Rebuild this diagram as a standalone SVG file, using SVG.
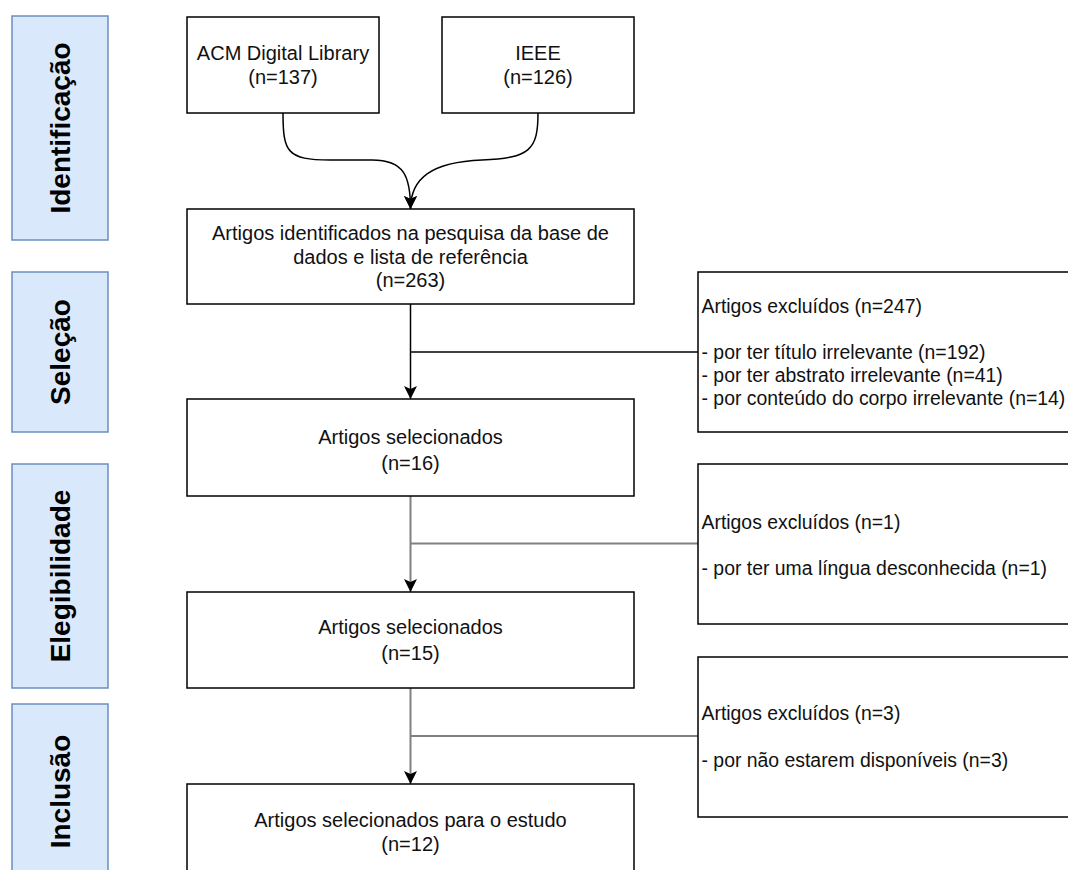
<svg xmlns="http://www.w3.org/2000/svg" width="1068" height="870" viewBox="0 0 1068 870">
  <style>
    .phase { fill: #dae8fc; stroke: #6c8ebf; stroke-width: 1.5; }
    .phase-label { font-family: "Liberation Sans", Arial, sans-serif; font-size: 28px; font-weight: bold; fill: #000; text-anchor: middle; }
    .box { fill: #fff; stroke: #000; stroke-width: 1.5; }
    .label { font-family: "Liberation Sans", Arial, sans-serif; font-size: 20px; fill: #111; text-anchor: middle; }
    .note { font-family: "Liberation Sans", Arial, sans-serif; font-size: 19.4px; fill: #111; }
    .edge { fill: none; stroke: #000; stroke-width: 1.5; }
    .edge-grey { fill: none; stroke: #808080; stroke-width: 2; }
  </style>
  <defs>
    <marker id="arrow" markerUnits="userSpaceOnUse" markerWidth="13" markerHeight="13" refX="13" refY="6.5" orient="auto">
      <path d="M0,0 L13,6.5 L0,13 L3,6.5 Z" fill="#000"/>
    </marker>
  </defs>

  <rect width="1068" height="870" fill="#fff"/>

  <!-- phase bands on the left -->
  <g id="phase-identificacao">
    <rect class="phase" x="12" y="16" width="96" height="224"/>
    <text class="phase-label" transform="translate(70,128) rotate(-90)">Identificação</text>
  </g>
  <g id="phase-selecao">
    <rect class="phase" x="12" y="272" width="96" height="160"/>
    <text class="phase-label" transform="translate(70,352) rotate(-90)">Seleção</text>
  </g>
  <g id="phase-elegibilidade">
    <rect class="phase" x="12" y="464" width="96" height="224"/>
    <text class="phase-label" transform="translate(70,576) rotate(-90)">Elegibilidade</text>
  </g>
  <g id="phase-inclusao">
    <rect class="phase" x="12" y="704" width="96" height="175"/>
    <text class="phase-label" transform="translate(70,791.5) rotate(-90)">Inclusão</text>
  </g>

  <!-- connectors -->
  <g id="connectors">
    <path class="edge" d="M283,113 C283,152 287,160 330,160 L372,160 C404,160 410.5,176 410.5,209" marker-end="url(#arrow)"/>
    <path class="edge" d="M538,113 C538,150 530,158 482,160 C432,162 410.5,178 410.5,209" marker-end="url(#arrow)"/>
    <path class="edge" d="M410.5,304 L410.5,399" marker-end="url(#arrow)"/>
    <path class="edge" d="M410.5,352 L698,352"/>
    <path class="edge-grey" d="M410.5,496 L410.5,592" marker-end="url(#arrow)"/>
    <path class="edge-grey" d="M410.5,543.5 L698,543.5"/>
    <path class="edge-grey" d="M410.5,688 L410.5,784" marker-end="url(#arrow)"/>
    <path class="edge-grey" d="M410.5,736 L698,736"/>
  </g>

  <!-- sources -->
  <g id="acm">
    <rect class="box" x="187" y="17" width="192" height="96"/>
    <text class="label" x="283" y="60">ACM Digital Library</text>
    <text class="label" x="283" y="84">(n=137)</text>
  </g>
  <g id="ieee">
    <rect class="box" x="442" y="17" width="192" height="96"/>
    <text class="label" x="538" y="60">IEEE</text>
    <text class="label" x="538" y="84">(n=126)</text>
  </g>

  <!-- main flow -->
  <g id="identificados">
    <rect class="box" x="187" y="209" width="447" height="95"/>
    <text class="label" x="410.5" y="240">Artigos identificados na pesquisa da base de</text>
    <text class="label" x="410.5" y="263.5">dados e lista de referência</text>
    <text class="label" x="410.5" y="287">(n=263)</text>
  </g>
  <g id="selecionados-16">
    <rect class="box" x="187" y="399" width="447" height="97"/>
    <text class="label" x="410.5" y="443.5">Artigos selecionados</text>
    <text class="label" x="410.5" y="470">(n=16)</text>
  </g>
  <g id="selecionados-15">
    <rect class="box" x="187" y="592" width="447" height="96"/>
    <text class="label" x="410.5" y="634">Artigos selecionados</text>
    <text class="label" x="410.5" y="660">(n=15)</text>
  </g>
  <g id="selecionados-estudo">
    <rect class="box" x="187" y="784" width="447" height="96"/>
    <text class="label" x="410.5" y="827">Artigos selecionados para o estudo</text>
    <text class="label" x="410.5" y="851">(n=12)</text>
  </g>

  <!-- exclusion notes -->
  <g id="excluidos-247">
    <rect class="box" x="698" y="272" width="420" height="160"/>
    <text class="note" x="701.5" y="313">Artigos excluídos (n=247)</text>
    <text class="note" x="701.5" y="359">- por ter título irrelevante (n=192)</text>
    <text class="note" x="701.5" y="382">- por ter abstrato irrelevante (n=41)</text>
    <text class="note" x="701.5" y="405">- por conteúdo do corpo irrelevante (n=14)</text>
  </g>
  <g id="excluidos-1">
    <rect class="box" x="698" y="464" width="420" height="160"/>
    <text class="note" x="701.5" y="528.5">Artigos excluídos (n=1)</text>
    <text class="note" x="701.5" y="575">- por ter uma língua desconhecida (n=1)</text>
  </g>
  <g id="excluidos-3">
    <rect class="box" x="698" y="657" width="420" height="160"/>
    <text class="note" x="701.5" y="720">Artigos excluídos (n=3)</text>
    <text class="note" x="701.5" y="767">- por não estarem disponíveis (n=3)</text>
  </g>
</svg>
